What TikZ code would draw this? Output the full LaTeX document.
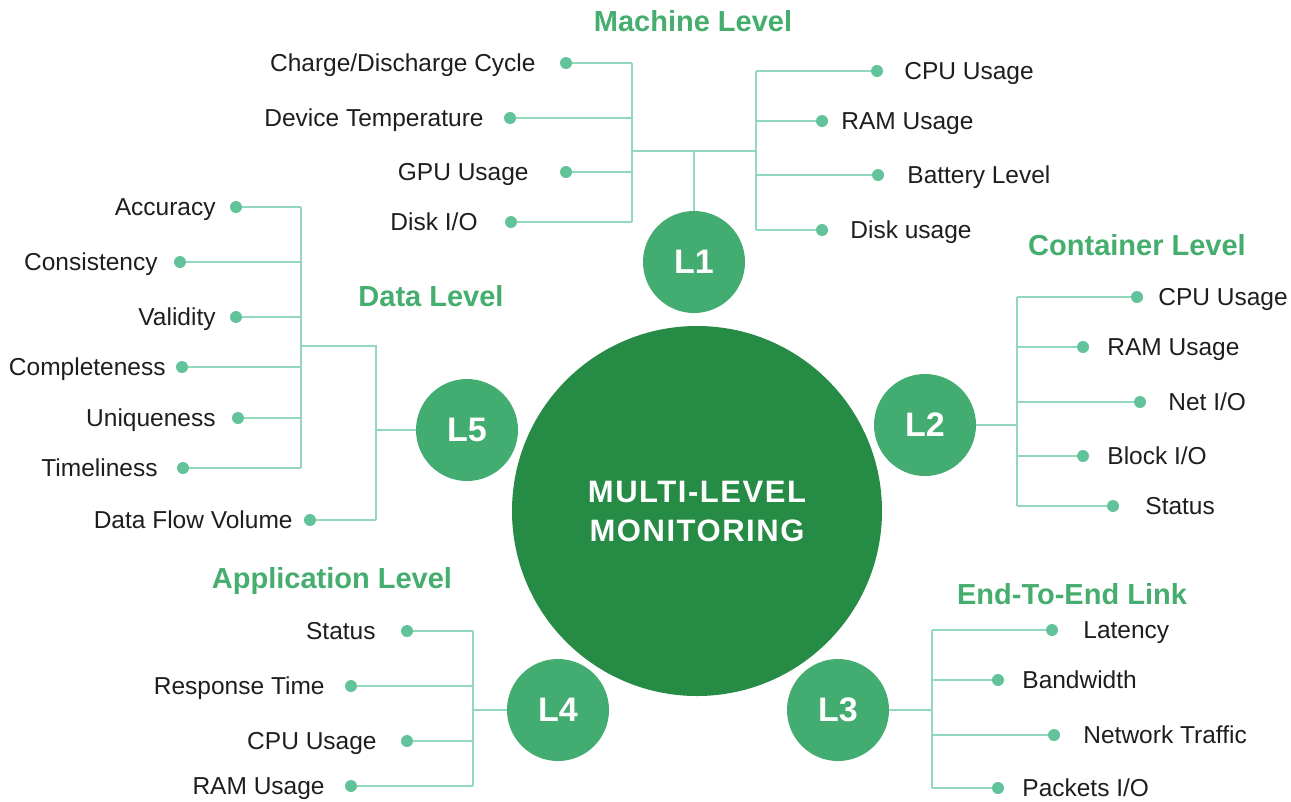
\documentclass[tikz,border=0pt]{standalone}
\usepackage{fontspec}
\setmainfont{Liberation Sans}
\newfontfamily\hubfamily[LetterSpace=5]{Liberation Sans}
\usetikzlibrary{positioning}
\definecolor{hubgreen}{HTML}{258B45}
\definecolor{levelgreen}{HTML}{43AC70}
\definecolor{titlegreen}{HTML}{45AD6D}
\definecolor{dotgreen}{HTML}{62C29A}
\definecolor{linegreen}{HTML}{93D8BC}
\definecolor{textblack}{HTML}{1E1E1E}
\tikzset{
  hub/.style={circle, fill=hubgreen, minimum size=370pt, inner sep=0pt, text=white, align=center,
    font=\hubfamily\bfseries\fontsize{31}{39}\selectfont},
  level node/.style={circle, fill=levelgreen, minimum size=102pt, inner sep=0pt, text=white,
    font=\bfseries\fontsize{34}{34}\selectfont},
  level title/.style={text=titlegreen, inner sep=0pt, text height=21pt, text depth=0pt,
    font=\bfseries\fontsize{29}{29}\selectfont},
  metric dot/.style={circle, fill=dotgreen, minimum size=12pt, inner sep=0pt},
  metric label/.style={text=textblack, inner sep=0pt, text height=17.5pt, text depth=0pt,
    font=\fontsize{24.5}{24.5}\selectfont},
  branch/.style={draw=linegreen, line width=1.6pt},
}

\begin{document}
\begin{tikzpicture}[x=1pt, y=-1pt]
  \useasboundingbox (0,0) rectangle (1291,801);

  \node[hub] (hub) at (697,511) {MULTI-LEVEL\\MONITORING};
  \node[level node] (L1) at (694,262) {L1};
  \node[level node] (L2) at (925,425) {L2};
  \node[level node] (L3) at (838,710) {L3};
  \node[level node] (L4) at (558,710) {L4};
  \node[level node] (L5) at (467,430) {L5};

  \node[level title] (t1) at (693,21)  {Machine Level};
  \node[level title] (t2) at (1137,245) {Container Level};
  \node[level title] (t3) at (1072,594) {End-To-End Link};
  \node[level title] (t4) at (332,578) {Application Level};
  \node[level title] (t5) at (431,296) {Data Level};

  % machine level
  \foreach \n/\px/\py/\g/\txt in {a/566/63/24/{Charge/Discharge Cycle}, b/510/118/20/{Device Temperature},
      c/566/172/31/{GPU Usage}, d/511/222/27/{Disk I/O}} {
    \node[metric dot] (m1\n) at (\px,\py) {};
    \node[metric label, left=\g pt of m1\n] (l1\n) {\txt};
  }
  \foreach \n/\px/\py/\g/\txt in {e/877/71/21/{CPU Usage}, f/822/121/13/{RAM Usage},
      g/878/175/23/{Battery Level}, h/822/230/22/{Disk usage}} {
    \node[metric dot] (m1\n) at (\px,\py) {};
    \node[metric label, right=\g pt of m1\n] (l1\n) {\txt};
  }
  \coordinate (b1l) at (632,151);
  \coordinate (b1r) at (756,151);
  \draw[branch] (b1l |- m1a) -- (b1l |- m1d);
  \draw[branch] (b1r |- m1e) -- (b1r |- m1h);
  \draw[branch] (b1l) -- (b1r);
  \draw[branch] (L1) -- (L1 |- b1l);
  \foreach \n in {a,b,c,d} \draw[branch] (m1\n) -- (m1\n -| b1l);
  \foreach \n in {e,f,g,h} \draw[branch] (m1\n) -- (m1\n -| b1r);

  % container level
  \foreach \n/\px/\py/\g/\txt in {a/1137/297/15/{CPU Usage}, b/1083/347/18/{RAM Usage},
      c/1140/402/22/{Net I/O}, d/1083/456/18/{Block I/O}, e/1113/506/26/{Status}} {
    \node[metric dot] (m2\n) at (\px,\py) {};
    \node[metric label, right=\g pt of m2\n] (l2\n) {\txt};
  }
  \coordinate (b2) at (1017,425);
  \draw[branch] (b2 |- m2a) -- (b2 |- m2e);
  \draw[branch] (L2) -- (b2);
  \foreach \n in {a,b,c,d,e} \draw[branch] (m2\n) -- (m2\n -| b2);

  % end-to-end link
  \foreach \n/\px/\py/\g/\txt in {a/1052/630/25/{Latency}, b/998/680/18/{Bandwidth},
      c/1054/735/23/{Network Traffic}, d/998/788/18/{Packets I/O}} {
    \node[metric dot] (m3\n) at (\px,\py) {};
    \node[metric label, right=\g pt of m3\n] (l3\n) {\txt};
  }
  \coordinate (b3) at (932,710);
  \draw[branch] (b3 |- m3a) -- (b3 |- m3d);
  \draw[branch] (L3) -- (b3);
  \foreach \n in {a,b,c,d} \draw[branch] (m3\n) -- (m3\n -| b3);

  % application level
  \foreach \n/\px/\py/\g/\txt in {a/407/631/25/{Status}, b/351/686/20/{Response Time},
      c/407/741/24/{CPU Usage}, d/351/786/20/{RAM Usage}} {
    \node[metric dot] (m4\n) at (\px,\py) {};
    \node[metric label, left=\g pt of m4\n] (l4\n) {\txt};
  }
  \coordinate (b4) at (473,710);
  \draw[branch] (b4 |- m4a) -- (b4 |- m4d);
  \draw[branch] (L4) -- (b4);
  \foreach \n in {a,b,c,d} \draw[branch] (m4\n) -- (m4\n -| b4);

  % data level
  \foreach \n/\px/\py/\g/\txt in {a/236/207/14/{Accuracy}, b/180/262/16/{Consistency},
      c/236/317/14/{Validity}, d/182/367/10/{Completeness}, e/238/418/16/{Uniqueness},
      f/183/468/19/{Timeliness}, g/310/520/11/{Data Flow Volume}} {
    \node[metric dot] (m5\n) at (\px,\py) {};
    \node[metric label, left=\g pt of m5\n] (l5\n) {\txt};
  }
  \coordinate (b5i) at (301,346);
  \coordinate (b5o) at (376,346);
  \draw[branch] (b5i |- m5a) -- (b5i |- m5f);
  \draw[branch] (b5i) -- (b5o) -- (b5o |- m5g);
  \draw[branch] (L5) -- (L5 -| b5o);
  \foreach \n in {a,b,c,d,e,f} \draw[branch] (m5\n) -- (m5\n -| b5i);
  \draw[branch] (m5g) -- (m5g -| b5o);
\end{tikzpicture}
\end{document}
